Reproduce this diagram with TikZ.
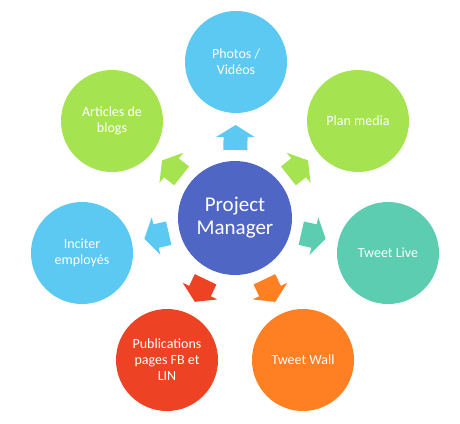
\documentclass[tikz,border=0pt]{standalone}
\usepackage{fontspec}
\setmainfont{Carlito}
\usetikzlibrary{positioning, arrows.meta, calc}
\definecolor{sky}{HTML}{5BC9F1}
\definecolor{lime}{HTML}{A6E350}
\definecolor{mint}{HTML}{5DCDB1}
\definecolor{tangerine}{HTML}{FF8022}
\definecolor{brick}{HTML}{EE4224}
\definecolor{royal}{HTML}{4F66C5}

\begin{document}
\begin{tikzpicture}[x=1pt, y=-1pt,
      hub/.style={circle, fill=royal, text=white, align=center,
        minimum size=114pt, inner sep=0pt,
        font=\fontsize{21}{23}\selectfont},
      topic/.style={circle, fill=#1, text=white, align=center,
        minimum size=102pt, inner sep=0pt,
        font=\fontsize{14}{16}\selectfont},
      pfeil/.style={line width=24pt, #1,
        -{Triangle[width=38pt, length=12pt]}}]
    \useasboundingbox (0,0) rectangle (460,423);
    \node[hub] (pm) at (235,218) {Project\\Manager};
    \node[topic=sky] (photos) at (236,62) {Photos /\\Vidéos};
    \node[topic=lime] (plan) at (358,121) {Plan media};
    \node[topic=mint] (live) at (388,253) {Tweet Live};
    \node[topic=tangerine] (wall) at (303,360) {Tweet Wall};
    \node[topic=brick] (pub) at (167,360) {Publications\\pages FB et\\LIN};
    \node[topic=sky] (staff) at (82,253) {Inciter\\employés};
    \node[topic=lime] (blogs) at (112,121) {Articles de\\blogs};
    \draw[pfeil=sky] ($(pm)!68pt!(photos)$) -- ($(pm)!93pt!(photos)$);
    \draw[pfeil=lime] ($(pm)!68pt!(plan)$) -- ($(pm)!93pt!(plan)$);
    \draw[pfeil=mint] ($(pm)!68pt!(live)$) -- ($(pm)!93pt!(live)$);
    \draw[pfeil=tangerine] ($(pm)!68pt!(wall)$) -- ($(pm)!93pt!(wall)$);
    \draw[pfeil=brick] ($(pm)!68pt!(pub)$) -- ($(pm)!93pt!(pub)$);
    \draw[pfeil=sky] ($(pm)!68pt!(staff)$) -- ($(pm)!93pt!(staff)$);
    \draw[pfeil=lime] ($(pm)!68pt!(blogs)$) -- ($(pm)!93pt!(blogs)$);
  \end{tikzpicture}
\end{document}
